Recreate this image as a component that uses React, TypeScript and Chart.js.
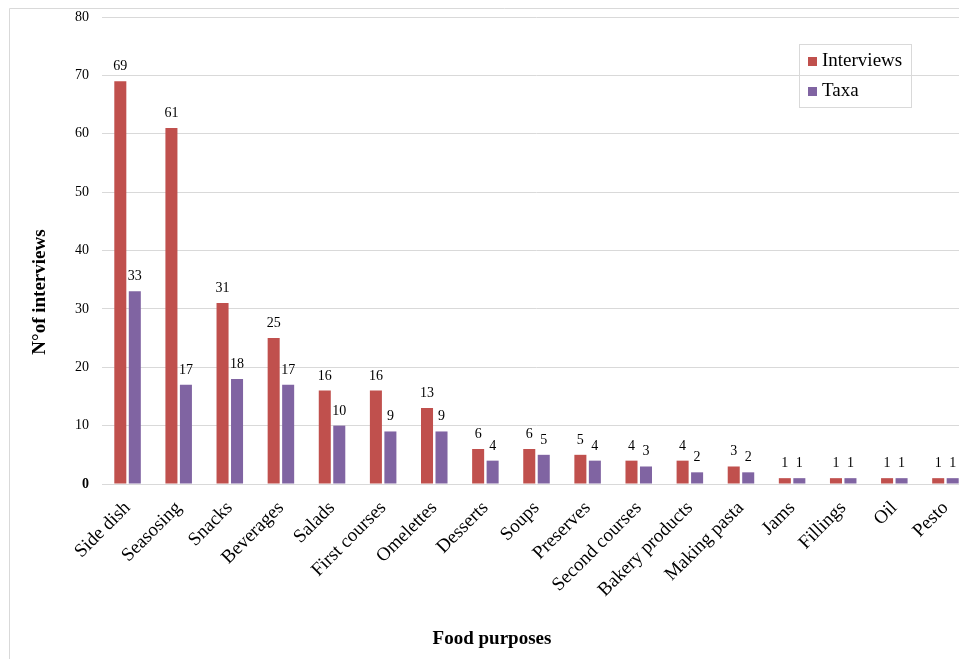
import React, { useEffect, useRef } from 'react';
import { Chart, registerables } from 'chart.js';

Chart.register(...registerables);

// Food purposes and the two counted series
const categories = [
  'Side dish', 'Seasosing', 'Snacks', 'Beverages', 'Salads', 'First courses',
  'Omelettes', 'Desserts', 'Soups', 'Preserves', 'Second courses',
  'Bakery products', 'Making pasta', 'Jams', 'Fillings', 'Oil', 'Pesto',
];
const interviews = [69, 61, 31, 25, 16, 16, 13, 6, 6, 5, 4, 4, 3, 1, 1, 1, 1];
const taxa = [33, 17, 18, 17, 10, 9, 9, 4, 5, 4, 3, 2, 2, 1, 1, 1, 1];

const seriesNames = ['Interviews', 'Taxa'];
const seriesColors = ['#C0504D', '#8064A2'];

const yMin = 0;
const yMax = 80;
const yStep = 10;

const xTitle = 'Food purposes';
const yTitle = 'N°of interviews';

const SERIF = "'Liberation Serif', 'Times New Roman', Times, serif";
const FRAME = '#d9d9d9';

const CANVAS_W = 1000;
const CANVAS_H = 659;

// Outer frame of the chart (left and top edges)
const framePlugin = {
  id: 'frame',
  beforeDraw(chart: any) {
    const { ctx } = chart;
    ctx.save();
    ctx.fillStyle = '#ffffff';
    ctx.fillRect(0, 0, chart.width, chart.height);
    ctx.strokeStyle = FRAME;
    ctx.lineWidth = 1;
    ctx.beginPath();
    ctx.moveTo(9.5, chart.height);
    ctx.lineTo(9.5, 8.5);
    ctx.lineTo(chart.width, 8.5);
    ctx.stroke();
    ctx.restore();
  },
};

// Value labels above every bar
const valueLabelPlugin = {
  id: 'valueLabels',
  afterDatasetsDraw(chart: any) {
    const { ctx } = chart;
    ctx.save();
    ctx.font = `14px ${SERIF}`;
    ctx.fillStyle = '#000';
    ctx.textAlign = 'center';
    ctx.textBaseline = 'alphabetic';
    chart.data.datasets.forEach((ds: any, di: number) => {
      const meta = chart.getDatasetMeta(di);
      meta.data.forEach((el: any, i: number) => {
        ctx.fillText(String(ds.data[i]), el.x, el.y - 11);
      });
    });
    ctx.restore();
  },
};

// Axis titles and the boxed legend
const annotationPlugin = {
  id: 'annotations',
  afterDraw(chart: any) {
    const { ctx } = chart;
    ctx.save();
    ctx.fillStyle = '#000';
    ctx.font = `bold 19px ${SERIF}`;
    ctx.textAlign = 'center';
    ctx.textBaseline = 'middle';
    ctx.fillText(xTitle, 492, 639);

    ctx.translate(40, 292);
    ctx.rotate(-Math.PI / 2);
    ctx.fillText(yTitle, 0, 0);
    ctx.restore();

    // legend
    ctx.save();
    ctx.strokeStyle = FRAME;
    ctx.lineWidth = 1;
    ctx.strokeRect(799.5, 44.5, 112, 63);
    ctx.font = `19px ${SERIF}`;
    ctx.textAlign = 'left';
    ctx.textBaseline = 'alphabetic';
    chart.data.datasets.forEach((ds: any, i: number) => {
      const rowY = 57 + i * 30;
      ctx.fillStyle = ds.backgroundColor;
      ctx.fillRect(808, rowY, 9, 9);
      ctx.fillStyle = '#000';
      ctx.fillText(ds.label, 822, rowY + 9);
    });
    ctx.restore();
  },
};

export default function App() {
  const canvasRef = useRef<HTMLCanvasElement | null>(null);

  useEffect(() => {
    const canvas = canvasRef.current;
    if (!canvas) return;

    const chart = new Chart(canvas, {
      type: 'bar',
      data: {
        labels: categories,
        datasets: [
          {
            label: seriesNames[0],
            data: interviews,
            backgroundColor: seriesColors[0],
            barPercentage: 0.83,
            categoryPercentage: 0.567,
          },
          {
            label: seriesNames[1],
            data: taxa,
            backgroundColor: seriesColors[1],
            barPercentage: 0.83,
            categoryPercentage: 0.567,
          },
        ],
      },
      options: {
        responsive: false,
        maintainAspectRatio: false,
        devicePixelRatio: 1,
        animation: false,
        layout: { padding: { left: 0, top: 17, right: 29, bottom: 0 } },
        plugins: {
          legend: { display: false },
          tooltip: { enabled: false },
          title: { display: false },
        },
        scales: {
          x: {
            grid: { display: false, drawTicks: false },
            border: { display: false },
            ticks: {
              autoSkip: false,
              maxRotation: 45,
              minRotation: 45,
              padding: 13,
              color: '#000',
              font: { family: SERIF, size: 19 },
            },
            afterFit(scale: any) {
              scale.height = 175;
              scale.paddingTop = 0;
              scale.paddingBottom = 0;
            },
          },
          y: {
            min: yMin,
            max: yMax,
            grid: { color: FRAME, lineWidth: 1, drawTicks: false },
            border: { display: false },
            ticks: {
              stepSize: yStep,
              padding: 13,
              color: '#000',
              font: (ctx: any) => ({
                family: SERIF,
                size: 14,
                weight: ctx.tick && ctx.tick.value === 0 ? 'bold' : 'normal',
              }),
            },
            afterFit(scale: any) {
              scale.width = 102;
              scale.paddingTop = 0;
              scale.paddingBottom = 0;
            },
          },
        },
      },
      plugins: [framePlugin, valueLabelPlugin, annotationPlugin],
    });

    return () => chart.destroy();
  }, []);

  return (
    <div
      style={{
        position: 'fixed',
        left: 0,
        top: 0,
        width: 959,
        height: 659,
        overflow: 'hidden',
        background: '#fff',
      }}
    >
      <canvas
        ref={canvasRef}
        width={CANVAS_W}
        height={CANVAS_H}
        style={{ position: 'absolute', left: 0, top: 0, width: CANVAS_W, height: CANVAS_H }}
      />
    </div>
  );
}
